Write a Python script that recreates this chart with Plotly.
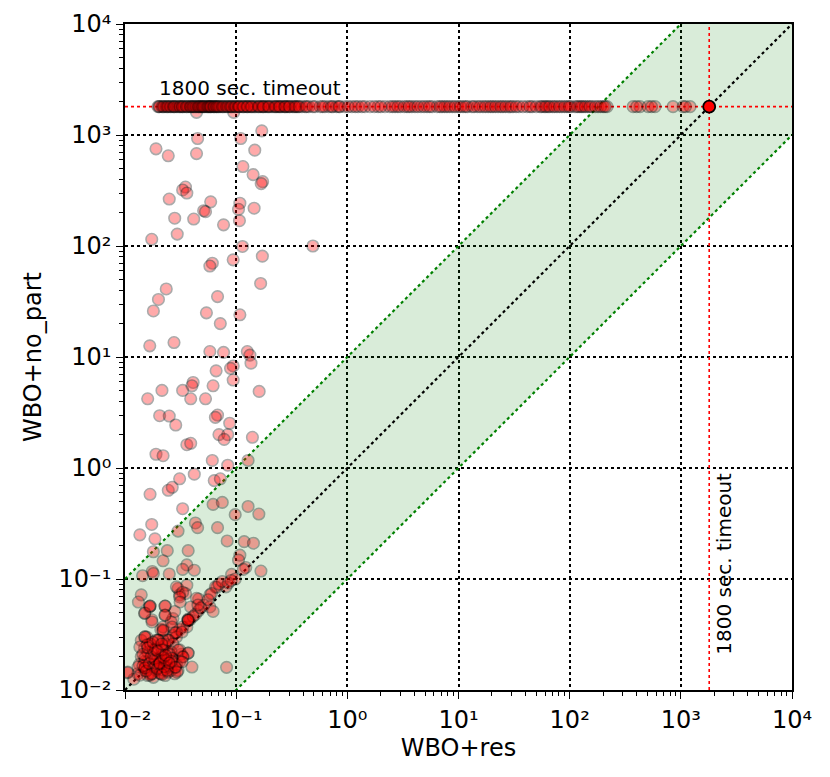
import math
import plotly.graph_objects as go

TIMEOUT = 1800

# instances that hit the timeout with WBO+no_part (x = WBO+res time)
timeout_x = [0.0198, 0.0202, 0.0205, 0.0215, 0.022, 0.0225, 0.0234, 0.024, 0.0245, 0.0254,
             0.026, 0.027, 0.0276, 0.028, 0.029, 0.030, 0.031, 0.0315, 0.0326, 0.033,
             0.034, 0.0354, 0.036, 0.037, 0.0385, 0.039, 0.040, 0.041, 0.0418, 0.043,
             0.044, 0.0454, 0.046, 0.047, 0.048, 0.0493, 0.050, 0.051, 0.052, 0.0536,
             0.055, 0.056, 0.057, 0.0582, 0.059, 0.060, 0.062, 0.0632, 0.064, 0.066,
             0.067, 0.0687, 0.070, 0.072, 0.0746, 0.076, 0.078, 0.081, 0.083, 0.085,
             0.088, 0.090, 0.092, 0.0957, 0.098, 0.100, 0.104, 0.108, 0.113, 0.118,
             0.123, 0.128, 0.133, 0.140, 0.145, 0.150, 0.157, 0.165, 0.171, 0.178,
             0.185, 0.192, 0.201, 0.21, 0.219, 0.23, 0.238, 0.25, 0.258, 0.27,
             0.281, 0.29, 0.305, 0.32, 0.331, 0.35, 0.360, 0.39, 0.416, 0.45,
             0.512, 0.57, 0.629, 0.68, 0.743, 0.80, 0.859, 0.95, 1.10, 1.25,
             1.44, 1.6, 1.89, 2.18, 2.4, 2.69, 3.0, 3.44, 3.8, 4.06,
             4.6, 5.21, 5.8, 6.41, 7.1, 7.88, 8.8, 9.89, 11.0, 12.1,
             13.2, 14.8, 16.6, 18.5, 20.4, 22.7, 25.1, 28, 30.9, 35,
             41.3, 46, 54.1, 59, 63.8, 70, 76.9, 85, 94.6, 103,
             112, 122, 132, 145, 159, 180, 200, 217, 372, 430,
             507, 586, 851, 1047, 1211,
             0.106, 0.116, 0.126, 0.137, 0.16, 0.175, 0.196, 0.225, 0.245, 0.275,
             0.30, 0.34, 0.37, 0.43, 0.49, 0.60, 0.72, 0.84, 1.02, 1.18,
             1.35, 1.75, 2.0, 2.55, 2.85, 3.25, 3.6, 4.3, 4.9, 5.5,
             6.8, 7.5, 8.3, 9.3, 10.4, 11.6, 13.8, 15.6, 17.5, 19.5,
             21.5, 24, 26.5, 29.5, 33, 38, 44, 50, 56, 61,
             66, 73, 81, 90, 99, 117, 127, 138, 152, 170,
             190, 208, 400, 545, 1100]

# solved instances (x = WBO+res, y = WBO+no_part), seconds
res_x = [0.17, 0.045, 0.11, 0.019, 0.0245, 0.044, 0.147, 0.115, 0.142, 0.173,
         0.168, 0.035, 0.033, 0.036, 0.025, 0.059, 0.051, 0.053, 0.108, 0.105,
         0.145, 0.028, 0.0415, 0.107, 0.077, 0.0295, 0.0174, 0.114, 0.49, 0.172,
         0.094, 0.061, 0.058, 0.166, 0.0235, 0.020, 0.068, 0.018, 0.054, 0.072,
         0.108, 0.0167, 0.0276, 0.058, 0.077, 0.126, 0.133, 0.136, 0.094, 0.089,
         0.066, 0.094, 0.041, 0.040, 0.062, 0.033, 0.0215, 0.161, 0.016, 0.039,
         0.053, 0.0205, 0.025, 0.068, 0.065, 0.0286, 0.0875, 0.070, 0.084, 0.078,
         0.14, 0.036, 0.039, 0.019, 0.022, 0.061, 0.128, 0.084, 0.042, 0.031,
         0.0635, 0.072, 0.0168, 0.0245, 0.0266, 0.033, 0.062, 0.075, 0.128, 0.16,
         0.098, 0.0174, 0.043, 0.045, 0.030, 0.068, 0.0136, 0.0186, 0.083, 0.118,
         0.143, 0.024, 0.037, 0.018, 0.022, 0.036, 0.033, 0.042, 0.108, 0.105,
         0.122, 0.116, 0.167, 0.0176, 0.0144, 0.025, 0.091, 0.098, 0.081, 0.067,
         0.065, 0.058, 0.060, 0.030, 0.036, 0.035, 0.031, 0.014, 0.0132, 0.0166,
         0.046, 0.039, 0.051, 0.058, 0.062, 0.023, 0.015, 0.023, 0.027, 0.0174,
         0.037, 0.036, 0.031, 0.027, 0.025, 0.029, 0.021, 0.0157, 0.014, 0.0168,
         0.015, 0.022, 0.037, 0.032, 0.082, 0.0105, 0.056, 0.046, 0.0385, 0.037,
         0.033, 0.029, 0.022, 0.022, 0.019, 0.023, 0.027, 0.031, 0.027, 0.024,
         0.0206, 0.025, 0.033, 0.018, 0.029, 0.033, 0.031, 0.044, 0.028, 0.026,
         0.014, 0.016, 0.018, 0.020, 0.022, 0.024, 0.026, 0.015, 0.017, 0.019,
         0.021, 0.023, 0.028, 0.030, 0.016, 0.019, 0.022, 0.025, 0.018, 0.020,
         0.015, 0.013, 0.024, 0.018, 0.026, 0.021, 0.023, 0.017, 0.020, 0.0135,
         0.016, 0.029, 0.031, 0.012, 0.043, 0.048, 0.041, 0.070, 0.075, 0.085,
         0.090, 0.044, 0.095,
         0.0168, 0.0229, 0.0313, 0.0453, 0.0151, 0.0229, 0.0175, 0.0369, 0.0265, 0.022,
         0.0151, 0.0282, 0.0326, 0.0198, 0.0244, 0.0136, 0.0179, 0.0215, 0.030, 0.0369,
         0.0333, 0.0151, 0.0194, 0.0265, 0.0131, 0.0151, 0.0186, 0.022, 0.0282, 0.0168,
         0.0206, 0.0244, 0.0294, 0.0106, 0.0136, 0.0326, 0.040, 0.0151, 0.0151, 0.0369,
         0.0168,
         0.0145, 0.0155, 0.0165, 0.0175, 0.0185, 0.0195, 0.0205, 0.0215, 0.0225, 0.0235,
         0.0145, 0.0158, 0.0172, 0.0188, 0.0204, 0.0222, 0.0240, 0.0262, 0.0285, 0.0160,
         0.0178, 0.0196, 0.0214, 0.0232, 0.0250]
nopart_y = [1090, 930, 930, 750, 650, 680, 730, 520, 440, 380,
            365, 340, 320, 300, 265, 250, 208, 204, 243, 214,
            219, 178, 175, 169, 155, 128, 115, 99, 100, 81,
            75, 70, 66, 46, 41, 33, 35, 26, 25, 20,
            24, 12.6, 13.5, 11.2, 11.0, 11.2, 10.4, 8.8, 8.3, 7.9,
            7.5, 6.2, 5.9, 5.5, 5.5, 5.0, 5.0, 4.9, 4.2, 4.2,
            4.2, 2.96, 2.94, 3.0, 2.86, 2.44, 2.53, 2.0, 2.0, 1.81,
            1.89, 1.62, 1.67, 1.33, 1.29, 1.17, 1.17, 1.06, 0.88, 0.80,
            0.77, 0.80, 0.58, 0.63, 0.67, 0.43, 0.47, 0.49, 0.45, 0.385,
            0.38, 0.31, 0.32, 0.29, 0.27, 0.29, 0.25, 0.23, 0.22, 0.217,
            0.21, 0.18, 0.18, 0.176, 0.146, 0.134, 0.122, 0.12, 0.164, 0.148,
            0.127, 0.122, 0.118, 0.117, 0.107, 0.111, 0.11, 0.10, 0.085, 0.084,
            0.085, 0.072, 0.074, 0.082, 0.088, 0.074, 0.072, 0.072, 0.062, 0.056,
            0.066, 0.056, 0.058, 0.056, 0.051, 0.057, 0.049, 0.047, 0.044, 0.043,
            0.0435, 0.037, 0.035, 0.031, 0.028, 0.030, 0.035, 0.030, 0.028, 0.026,
            0.024, 0.028, 0.0215, 0.021, 0.016, 0.0143, 0.065, 0.052, 0.043, 0.042,
            0.037, 0.033, 0.037, 0.034, 0.028, 0.025, 0.026, 0.023, 0.019, 0.0165,
            0.0186, 0.0214, 0.020, 0.112, 0.085, 0.076, 0.069, 0.067, 0.051, 0.041,
            0.020, 0.018, 0.021, 0.019, 0.017, 0.016, 0.015, 0.015, 0.014, 0.015,
            0.014, 0.0135, 0.014, 0.015, 0.022, 0.024, 0.023, 0.021, 0.017, 0.016,
            0.018, 0.014, 0.019, 0.013, 0.022, 0.020, 0.026, 0.026, 0.028, 0.017,
            0.0135, 0.017, 0.018, 0.0125, 0.048, 0.055, 0.046, 0.090, 0.095, 0.092,
            0.097, 1600, 1600,
            0.0571, 0.0571, 0.0621, 0.0583, 0.0494, 0.0474, 0.041, 0.0427, 0.037, 0.0347,
            0.0301, 0.0327, 0.0333, 0.0282, 0.0282, 0.0244, 0.0229, 0.0229, 0.0229, 0.0215,
            0.0198, 0.0194, 0.0186, 0.0194, 0.0161, 0.0158, 0.0161, 0.0151, 0.0161, 0.0136,
            0.0142, 0.0145, 0.0145, 0.0145, 0.0136, 0.0179, 0.0161, 0.0301, 0.0158, 0.0427,
            0.0571,
            0.0165, 0.0148, 0.0172, 0.0140, 0.0190, 0.0155, 0.0176, 0.0138, 0.0162, 0.0185,
            0.0210, 0.0255, 0.0200, 0.0232, 0.0172, 0.0196, 0.0150, 0.0182, 0.0160, 0.0240,
            0.0270, 0.0225, 0.0260, 0.0205, 0.0175]

tick_vals = [0.01, 0.1, 1, 10, 100, 1000, 10000]
tick_text = ["10⁻²", "10⁻¹", "10⁰", "10¹", "10²", "10³", "10⁴"]
lo, hi = 0.01, 10000

minor_vals = [m * d for d in tick_vals[:-1] for m in range(2, 10)]

fig = go.Figure()

# green band: within a factor 10 of the diagonal
fig.add_trace(go.Scatter(x=[lo, hi, hi, lo], y=[lo / 10, hi / 10, hi * 10, lo * 10],
                         mode="lines", fill="toself", fillcolor="rgba(0,128,0,0.15)",
                         line=dict(width=0), hoverinfo="skip"))
fig.add_trace(go.Scatter(x=[lo, hi], y=[lo * 10, hi * 10], mode="lines",
                         line=dict(color="green", dash="dot", width=2.2)))
fig.add_trace(go.Scatter(x=[lo, hi], y=[lo / 10, hi / 10], mode="lines",
                         line=dict(color="green", dash="dot", width=2.2)))
fig.add_trace(go.Scatter(x=[lo, hi], y=[lo, hi], mode="lines",
                         line=dict(color="black", dash="dot", width=2.2)))

# timeout lines
fig.add_trace(go.Scatter(x=[lo, hi], y=[TIMEOUT, TIMEOUT], mode="lines",
                         line=dict(color="red", dash="dot", width=1.6)))
fig.add_trace(go.Scatter(x=[TIMEOUT, TIMEOUT], y=[lo, hi], mode="lines",
                         line=dict(color="red", dash="dot", width=1.6)))

marker_style = dict(size=11.5, color="red", opacity=0.33,
                    line=dict(color="black", width=1.6))
fig.add_trace(go.Scatter(x=res_x, y=nopart_y, mode="markers", marker=marker_style))
fig.add_trace(go.Scatter(x=timeout_x, y=[TIMEOUT] * len(timeout_x), mode="markers",
                         marker=marker_style))
# both timed out
fig.add_trace(go.Scatter(x=[TIMEOUT], y=[TIMEOUT], mode="markers",
                         marker=dict(size=12, color="red", line=dict(color="black", width=1.8))))

font = dict(family="DejaVu Sans", size=24, color="black")

axis = dict(type="log", range=[math.log10(lo), math.log10(hi)],
            tickmode="array", tickvals=tick_vals, ticktext=tick_text,
            ticks="outside", ticklen=7, tickwidth=1.3, tickcolor="black",
            minor=dict(tickmode="array", tickvals=minor_vals, ticks="outside",
                       ticklen=4, tickwidth=1, tickcolor="black", showgrid=False),
            showgrid=True, gridcolor="black", griddash="dot", gridwidth=1.5,
            showline=True, linecolor="black", linewidth=1.8, mirror=True,
            zeroline=False, tickfont=font, ticklabeloverflow="allow",
            automargin=False)

fig.update_xaxes(**axis, title=dict(text="WBO+res", font=dict(family="DejaVu Sans", size=24), standoff=4))
fig.update_yaxes(**axis, title=dict(text="WBO+no_part", font=dict(family="DejaVu Sans", size=24), standoff=10))

fig.add_annotation(x=math.log10(0.0195), y=math.log10(2000), text="1800 sec. timeout",
                   showarrow=False, xanchor="left", yanchor="bottom",
                   font=dict(family="DejaVu Sans", size=20, color="black"))
fig.add_annotation(x=math.log10(2400), y=math.log10(0.02), text="1800 sec. timeout",
                   showarrow=False, textangle=-90, xanchor="center", yanchor="bottom",
                   font=dict(family="DejaVu Sans", size=20, color="black"))

fig.update_layout(width=814, height=761, showlegend=False,
                  margin=dict(l=117, r=30, t=16, b=79, autoexpand=False),
                  plot_bgcolor="white", paper_bgcolor="white",
                  font=font)

fig.write_html("out.html")
